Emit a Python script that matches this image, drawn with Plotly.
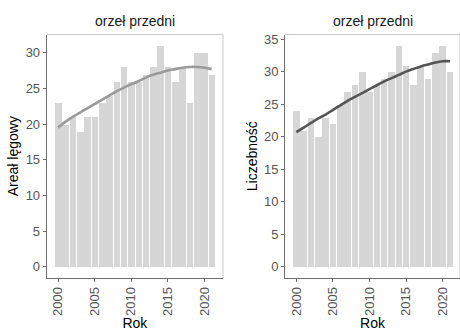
import plotly.graph_objects as go

# Breeding data for the eastern imperial eagle (orzeł przedni), 2000-2021
years = list(range(2000, 2022))
areal = [23, 20, 21, 19, 21, 21, 23, 24, 26, 28, 26, 26, 27, 28, 31, 28, 26, 28, 23, 30, 30, 27]
liczebnosc = [24, 21, 23, 20, 23, 22, 25, 27, 28, 30, 27, 28, 29, 30, 34, 31, 28, 31, 29, 33, 34, 30]

# Smoothed trend values for each year
areal_trend = [19.5, 20.3, 21.0, 21.6, 22.2, 22.8, 23.4, 24.0, 24.6, 25.1, 25.6,
               26.0, 26.5, 26.9, 27.2, 27.5, 27.7, 27.9, 28.0, 28.0, 27.9, 27.7]
liczebnosc_trend = [20.7, 21.4, 22.1, 22.8, 23.4, 24.1, 24.8, 25.5, 26.1, 26.7, 27.3,
                    27.9, 28.5, 29.0, 29.5, 30.0, 30.4, 30.8, 31.1, 31.4, 31.6, 31.6]

title_text = "orzeł przedni"
x_title = "Rok"
y_titles = ["Areał lęgowy", "Liczebność"]

W, H = 460, 331
FONT = "Liberation Sans, Arial, sans-serif"
BAR = "#d6d6d6"
TICK = "#555555"
AXLINE = "#6e6e6e"
BORDER = "#c8c8c8"

top_px, bot_px = 32, 279
ydom = [1 - bot_px / H, 1 - top_px / H]
xdoms = [[46.7 / W, 223 / W], [285 / W, 1.0]]
xranges = [[1998.45, 2022.55], [1998.45, 2022.36]]
yranges = [[-1.55, 32.55], [-1.7, 35.7]]

fig = go.Figure()

panels = [
    (areal, areal_trend, "#9a9a9a"),
    (liczebnosc, liczebnosc_trend, "#555555"),
]

for i, (vals, trend, lc) in enumerate(panels):
    xa = "x" if i == 0 else "x2"
    ya = "y" if i == 0 else "y2"
    fig.add_trace(go.Bar(x=years, y=vals, marker=dict(color=BAR, line=dict(width=0)),
                         width=0.9, xaxis=xa, yaxis=ya, showlegend=False))
    fig.add_trace(go.Scatter(x=years, y=trend, mode="lines",
                             line=dict(color=lc, width=2.6, shape="spline"),
                             xaxis=xa, yaxis=ya, showlegend=False))

axis_common = dict(
    showgrid=False, zeroline=False, showline=True, linecolor=AXLINE, linewidth=1,
    ticks="outside", ticklen=3, tickcolor=AXLINE, tickwidth=1,
    tickfont=dict(family=FONT, size=13, color=TICK),
)

layout = dict(
    width=W, height=H, margin=dict(l=0, r=0, t=0, b=0),
    plot_bgcolor="white", paper_bgcolor="white", bargap=0,
    font=dict(family=FONT, color="black"),
)

for i in range(2):
    sx = "" if i == 0 else "2"
    layout["xaxis" + sx] = dict(
        axis_common, domain=xdoms[i], range=xranges[i], anchor="y" + sx,
        tickmode="array", tickvals=[2000, 2005, 2010, 2015, 2020],
        ticktext=["2000", "2005", "2010", "2015", "2020"], tickangle=-90,
        title=dict(text=x_title, font=dict(family=FONT, size=14, color="black"), standoff=5),
    )
    layout["yaxis" + sx] = dict(
        axis_common, domain=ydom, range=yranges[i], anchor="x" + sx,
        tickmode="array", tickvals=[0, 5, 10, 15, 20, 25, 30] + ([35] if i == 1 else []),
        title=dict(text=y_titles[i], font=dict(family=FONT, size=14, color="black"), standoff=3),
    )

fig.update_layout(**layout)

# Light panel border on the top and right sides, plus panel titles
for i in range(2):
    sx = "" if i == 0 else "2"
    fig.add_shape(type="line", xref=f"x{sx} domain", yref=f"y{sx} domain",
                  x0=0, x1=1, y0=1, y1=1, line=dict(color=BORDER, width=1))
    fig.add_shape(type="line", xref=f"x{sx} domain", yref=f"y{sx} domain",
                  x0=1, x1=1, y0=0, y1=1, line=dict(color=BORDER, width=1))
    fig.add_annotation(text=title_text, xref=f"x{sx} domain", yref="paper",
                       x=0.5, y=1 - 18 / H,
                       showarrow=False, xanchor="center", yanchor="middle",
                       font=dict(family=FONT, size=14, color="#1a1a1a"))

fig.write_html("out.html")
